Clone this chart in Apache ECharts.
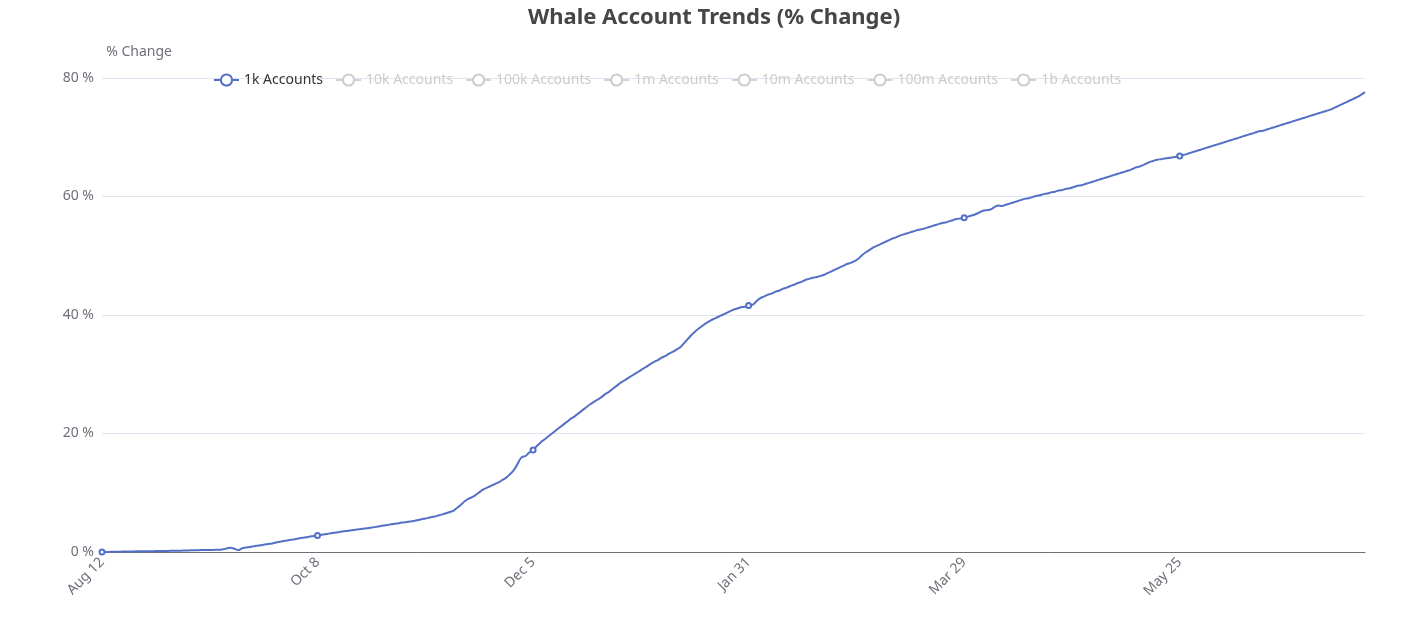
<!DOCTYPE html>
<html>
<head>
<meta charset="utf-8">
<script src="https://cdn.jsdelivr.net/npm/echarts@6/dist/echarts.min.js"></script>
<style>html,body{margin:0;padding:0;background:#fff}#chart{width:1428px;height:627px}</style>
</head>
<body>
<div id="chart"></div>
<script>
// series names
var seriesNames = ["1k Accounts", "10k Accounts", "100k Accounts", "1m Accounts", "10m Accounts", "100m Accounts", "1b Accounts"];

// 1k accounts, % change, daily from Aug 12
var acc1k = [
	0, 0, 0.02, 0.03, 0.05, 0.06, 0.08,
	0.09, 0.1, 0.11, 0.12, 0.13, 0.14, 0.14,
	0.15, 0.16, 0.17, 0.18, 0.19, 0.2, 0.21,
	0.23, 0.25, 0.27, 0.29, 0.3, 0.32, 0.33,
	0.34, 0.35, 0.36, 0.37, 0.45, 0.6, 0.72,
	0.55, 0.32, 0.6, 0.75, 0.85, 0.95, 1.05,
	1.15, 1.25, 1.35, 1.45, 1.6, 1.72, 1.84,
	1.95, 2.05, 2.15, 2.28, 2.4, 2.5, 2.6,
	2.7, 2.8, 2.9, 3.0, 3.1, 3.2, 3.3,
	3.4, 3.5, 3.6, 3.68, 3.76, 3.84, 3.92,
	4.0, 4.1, 4.2, 4.3, 4.42, 4.52, 4.62,
	4.72, 4.82, 4.92, 5.0, 5.1, 5.2, 5.3,
	5.45, 5.6, 5.72, 5.85, 6.0, 6.15, 6.35,
	6.55, 6.75, 7.0, 7.5, 8.0, 8.6, 9.0,
	9.3, 9.7, 10.2, 10.6, 10.9, 11.2, 11.5,
	11.8, 12.2, 12.6, 13.2, 13.9, 15.0, 16.0,
	16.2, 16.8, 17.2, 17.9, 18.5, 19.0, 19.5,
	20.0, 20.5, 21.0, 21.5, 22.0, 22.5, 22.9,
	23.4, 23.9, 24.4, 24.9, 25.3, 25.7, 26.1,
	26.6, 27.0, 27.5, 28.0, 28.5, 28.9, 29.3,
	29.7, 30.1, 30.5, 30.9, 31.3, 31.7, 32.1,
	32.4, 32.8, 33.1, 33.5, 33.8, 34.2, 34.6,
	35.3, 36.0, 36.7, 37.3, 37.8, 38.3, 38.7,
	39.1, 39.4, 39.7, 40.0, 40.3, 40.6, 40.9,
	41.1, 41.3, 41.4, 41.6, 41.7, 42.3, 42.8,
	43.1, 43.4, 43.6, 43.9, 44.1, 44.4, 44.6,
	44.9, 45.1, 45.4, 45.6, 45.9, 46.1, 46.3,
	46.4, 46.6, 46.8, 47.1, 47.4, 47.7, 48.0,
	48.3, 48.6, 48.8, 49.1, 49.5, 50.1, 50.6,
	51.0, 51.4, 51.7, 52.0, 52.3, 52.6, 52.9,
	53.1, 53.4, 53.6, 53.8, 54.0, 54.2, 54.4,
	54.5, 54.7, 54.9, 55.1, 55.3, 55.5, 55.6,
	55.8, 56.0, 56.2, 56.3, 56.4, 56.6, 56.8,
	57.0, 57.3, 57.6, 57.7, 57.8, 58.2, 58.5,
	58.4, 58.6, 58.8, 59.0, 59.2, 59.4, 59.6,
	59.7, 59.9, 60.1, 60.2, 60.4, 60.5, 60.7,
	60.8, 61.0, 61.1, 61.3, 61.4, 61.6, 61.8,
	61.9, 62.1, 62.3, 62.5, 62.7, 62.9, 63.1,
	63.3, 63.5, 63.7, 63.9, 64.1, 64.3, 64.5,
	64.8, 65.0, 65.2, 65.5, 65.8, 66.0, 66.2,
	66.3, 66.4, 66.5, 66.6, 66.7, 66.85, 67.0,
	67.2, 67.4, 67.6, 67.8, 68.0, 68.2, 68.4,
	68.6, 68.8, 69.0, 69.2, 69.4, 69.6, 69.8,
	70.0, 70.2, 70.4, 70.6, 70.8, 71.0, 71.1,
	71.3, 71.5, 71.7, 71.9, 72.1, 72.3, 72.5,
	72.7, 72.9, 73.1, 73.3, 73.5, 73.7, 73.9,
	74.1, 74.3, 74.5, 74.7, 75.0, 75.3, 75.6,
	75.9, 76.2, 76.5, 76.8, 77.2, 77.6
];

// date labels, Aug 12 onward (Nov 6 missing in the source)
var monthNames = ["Jan", "Feb", "Mar", "Apr", "May", "Jun", "Jul", "Aug", "Sep", "Oct", "Nov", "Dec"];
var dates = [];
var d = new Date(2022, 7, 12);
while (dates.length < acc1k.length) {
	if (!(d.getMonth() == 10 && d.getDate() == 6)) {
		dates.push(monthNames[d.getMonth()] + " " + d.getDate());
	}
	d.setDate(d.getDate() + 1);
}

var myChart = echarts.init(document.getElementById("chart"));
var selected = {};
seriesNames.forEach(function (n, i) { selected[n] = i == 0; });

var series = seriesNames.map(function (n, i) {
	return {
		name: n,
		type: "line",
		smooth: true,
		symbol: "emptyCircle",
		symbolSize: 5,
		lineStyle: { width: 2 },
		data: i == 0 ? acc1k : []
	};
});

myChart.setOption({
	textStyle: { fontFamily: "Noto Sans, sans-serif" },
	color: ["#5470c6", "#91cc75", "#fac858", "#ee6666", "#73c0de", "#3ba272", "#fc8452"],
	title: {
		text: "Whale Account Trends (% Change)",
		left: "center",
		top: 2,
		textStyle: { fontSize: 22, fontWeight: "bold", color: "#464646" }
	},
	legend: {
		top: 68,
		left: 208,
		itemGap: 12,
		selected: selected,
		textStyle: { fontSize: 14, color: "#333" },
		inactiveColor: "#ccc"
	},
	tooltip: { trigger: "axis" },
	grid: { left: 102, right: 63, top: 78, bottom: 75 },
	xAxis: {
		type: "category",
		boundaryGap: false,
		data: dates,
		axisTick: { show: false },
		axisLine: { lineStyle: { color: "#6e7079" } },
		axisLabel: { interval: 56, rotate: 45, fontSize: 14, color: "#6e7079" }
	},
	yAxis: {
		type: "value",
		name: "% Change",
		nameTextStyle: { fontSize: 14, color: "#6e7079", align: "right", padding: [0, -70, 4, 0] },
		min: 0,
		max: 80,
		interval: 20,
		axisLabel: { formatter: "{value} %", fontSize: 14, color: "#6e7079" },
		splitLine: { lineStyle: { color: "#e0e6f1" } }
	},
	series: series
});
</script>
</body>
</html>
